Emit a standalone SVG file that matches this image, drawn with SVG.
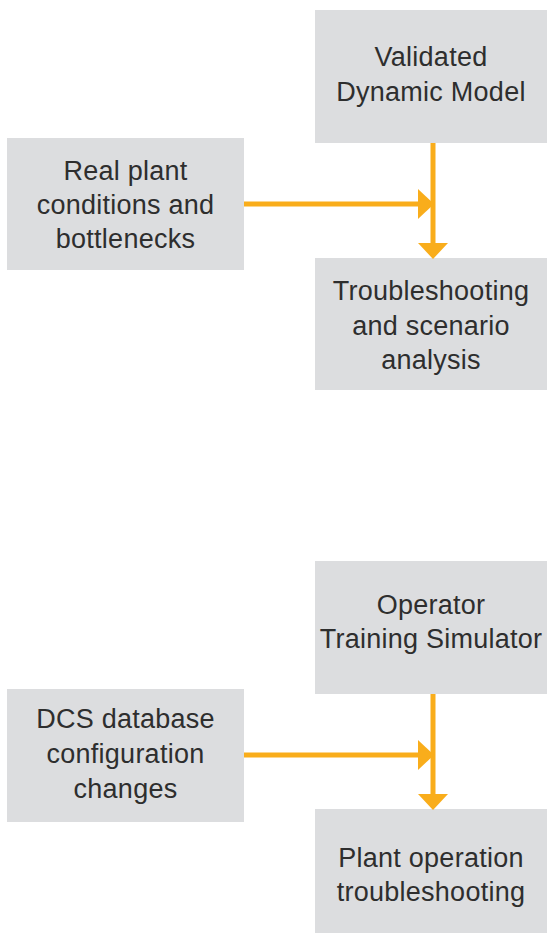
<svg xmlns="http://www.w3.org/2000/svg" width="547" height="933" viewBox="0 0 547 933">
<style>
.box{fill:#dcdddf}
.lbl{font-family:"Liberation Sans",Arial,sans-serif;font-size:27px;fill:#2e2e2e;text-anchor:middle;letter-spacing:0.25px}
.conn{stroke:#f9ad1b;stroke-width:5;fill:none}
</style>
<defs>
<marker id="ah" markerUnits="userSpaceOnUse" markerWidth="16" markerHeight="30" viewBox="0 0 16 30" refX="0" refY="15" orient="auto">
<path d="M0,0 L16,15 L0,30 Z" fill="#f9ad1b"/>
</marker>
</defs>
<rect width="547" height="933" fill="#ffffff"/>
<g id="validated-model">
<rect class="box" x="315" y="10" width="232" height="133"/>
<text class="lbl" x="431" y="66">Validated</text>
<text class="lbl" x="431" y="101">Dynamic Model</text>
</g>
<g id="real-plant">
<rect class="box" x="7" y="138" width="237" height="132"/>
<text class="lbl" x="125.5" y="180">Real plant</text>
<text class="lbl" x="125.5" y="214">conditions and</text>
<text class="lbl" x="125.5" y="248">bottlenecks</text>
</g>
<g id="troubleshooting">
<rect class="box" x="315" y="258" width="232" height="132"/>
<text class="lbl" x="431" y="300">Troubleshooting</text>
<text class="lbl" x="431" y="335">and scenario</text>
<text class="lbl" x="431" y="369">analysis</text>
</g>
<g id="ots">
<rect class="box" x="315" y="561" width="232" height="133"/>
<text class="lbl" x="431" y="614">Operator</text>
<text class="lbl" x="431" y="648">Training Simulator</text>
</g>
<g id="dcs">
<rect class="box" x="7" y="689" width="237" height="133"/>
<text class="lbl" x="125.5" y="728">DCS database</text>
<text class="lbl" x="125.5" y="763">configuration</text>
<text class="lbl" x="125.5" y="798">changes</text>
</g>
<g id="plant-operation">
<rect class="box" x="315" y="809" width="232" height="133"/>
<text class="lbl" x="431" y="867">Plant operation</text>
<text class="lbl" x="431" y="901">troubleshooting</text>
</g>
<g id="connectors">
<line class="conn" x1="433" y1="143" x2="433" y2="243" marker-end="url(#ah)"/>
<line class="conn" x1="244" y1="204" x2="418" y2="204" marker-end="url(#ah)"/>
<line class="conn" x1="433" y1="694" x2="433" y2="794" marker-end="url(#ah)"/>
<line class="conn" x1="244" y1="755" x2="418" y2="755" marker-end="url(#ah)"/>
</g>
</svg>
